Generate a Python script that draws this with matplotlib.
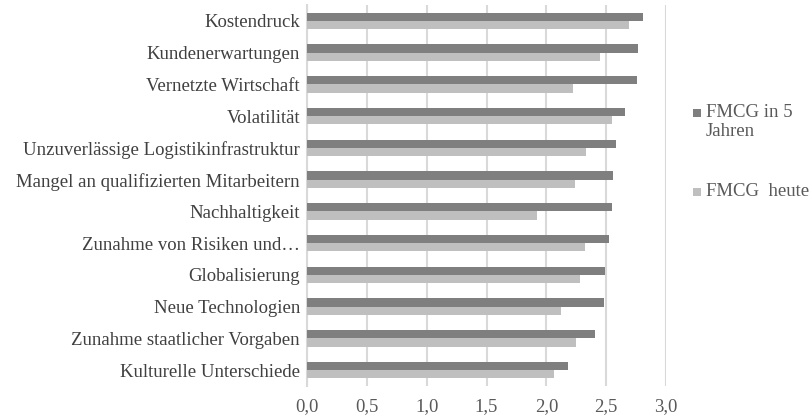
import matplotlib
matplotlib.use("Agg")
import matplotlib.pyplot as plt
import numpy as np
from matplotlib.patches import Rectangle

categories = ["Kostendruck", "Kundenerwartungen", "Vernetzte Wirtschaft", "Volatilität",
              "Unzuverlässige Logistikinfrastruktur", "Mangel an qualifizierten Mitarbeitern",
              "Nachhaltigkeit", "Zunahme von Risiken und…", "Globalisierung",
              "Neue Technologien", "Zunahme staatlicher Vorgaben", "Kulturelle Unterschiede"]
fmcg_5 = [2.81, 2.77, 2.76, 2.66, 2.58, 2.56, 2.55, 2.52, 2.49, 2.48, 2.41, 2.18]
fmcg_heute = [2.69, 2.45, 2.22, 2.55, 2.33, 2.24, 1.92, 2.32, 2.28, 2.12, 2.25, 2.06]
series_labels = ["FMCG in 5\nJahren", "FMCG  heute"]
xticks = [0.0, 0.5, 1.0, 1.5, 2.0, 2.5, 3.0]

plt.rcParams['font.family'] = ['Liberation Serif', 'DejaVu Serif']

W, H = 811, 419
fig = plt.figure(figsize=(W/100, H/100), dpi=100)
ax = fig.add_axes([307/W, 1-386/H, (666-307)/W, (386-5)/H])

y = np.arange(len(categories))
h = 0.26
c_dark = "#7f7f7f"
c_light = "#bfbfbf"
ax.barh(y - h/2, fmcg_5, height=h, color=c_dark, zorder=3)
ax.barh(y + h/2, fmcg_heute, height=h, color=c_light, zorder=3)

ax.set_ylim(len(categories) - 0.5, -0.5)
ax.set_xlim(0, 3.0)
ax.set_xticks(xticks)
ax.set_xticklabels([f"{t:.1f}".replace(".", ",") for t in xticks], fontsize=13.5, color="#595959")
ax.set_yticks(y)
ax.set_yticklabels(categories, fontsize=13.5, color="#404040")
ax.tick_params(axis='both', length=0)
ax.tick_params(axis='x', pad=9)
ax.tick_params(axis='y', pad=5)
ax.grid(axis='x', color="#d9d9d9", linewidth=1.5, zorder=0)
for s in ["top", "right", "bottom"]:
    ax.spines[s].set_visible(False)
ax.spines["left"].set_color("#d9d9d9")
ax.spines["left"].set_linewidth(1.5)

# legend
colors = [c_dark, c_light]
centers = [113, 192]
for lab, col, cy in zip(series_labels, colors, centers):
    fig.patches.append(Rectangle((693/W, 1-(cy+4)/H), 8/W, 8/H, transform=fig.transFigure,
                                 facecolor=col, edgecolor='none'))
    fig.text(706/W, 1-(cy-9)/H, lab, fontsize=13.5, color="#595959", va='top', ha='left',
             linespacing=1.12)

fig.savefig("out.png", dpi=100)
